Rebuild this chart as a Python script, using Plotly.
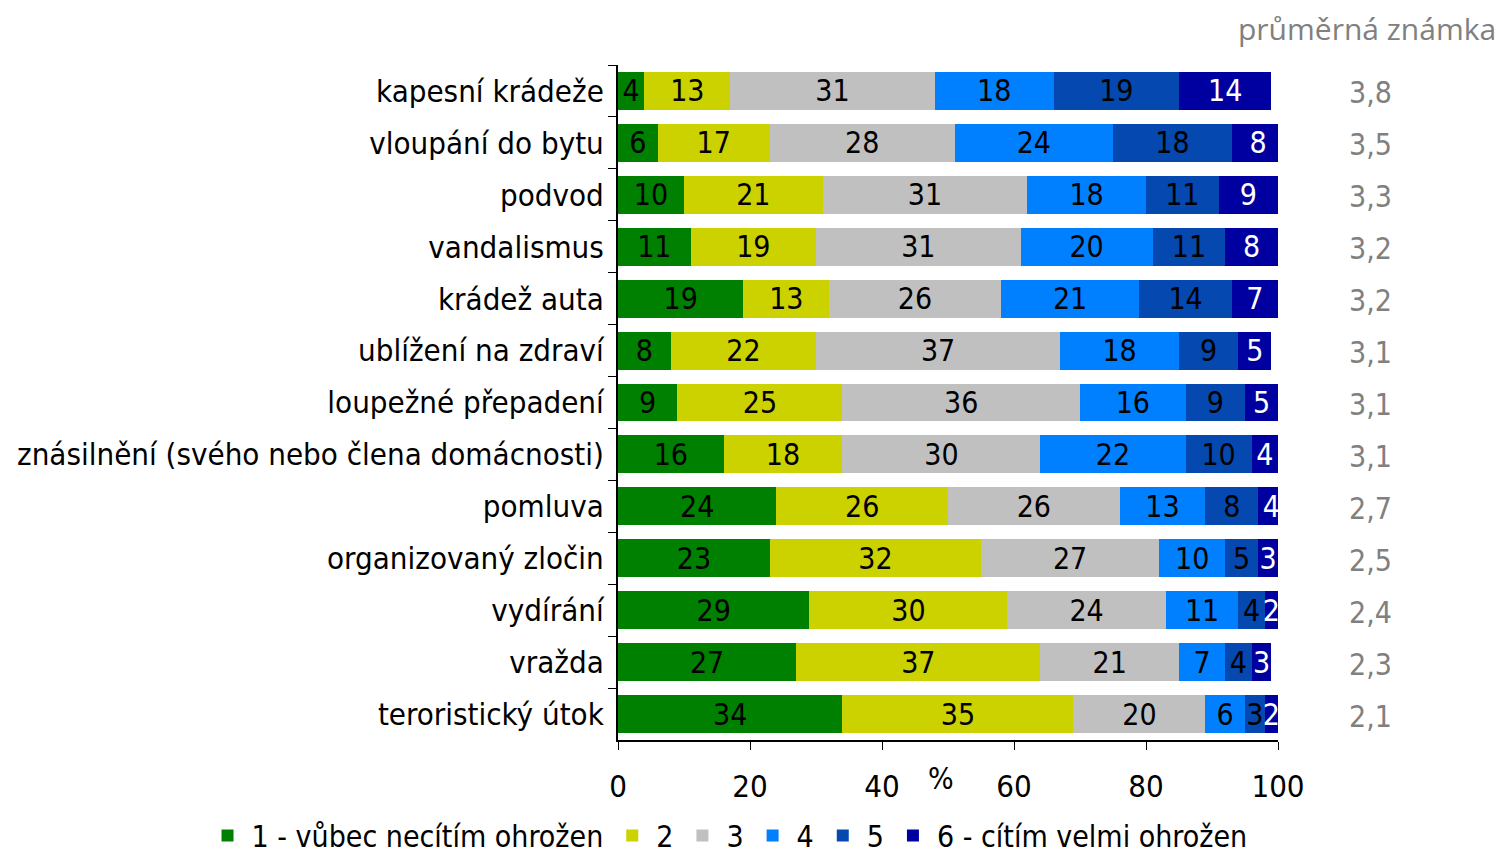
import plotly.graph_objects as go

categories = [
    "kapesní krádeže", "vloupání do bytu", "podvod", "vandalismus", "krádež auta",
    "ublížení na zdraví", "loupežné přepadení", "znásilnění (svého nebo člena domácnosti)",
    "pomluva", "organizovaný zločin", "vydírání", "vražda", "teroristický útok",
]
s1 = [4, 6, 10, 11, 19, 8, 9, 16, 24, 23, 29, 27, 34]
s2 = [13, 17, 21, 19, 13, 22, 25, 18, 26, 32, 30, 37, 35]
s3 = [31, 28, 31, 31, 26, 37, 36, 30, 26, 27, 24, 21, 20]
s4 = [18, 24, 18, 20, 21, 18, 16, 22, 13, 10, 11, 7, 6]
s5 = [19, 18, 11, 11, 14, 9, 9, 10, 8, 5, 4, 4, 3]
s6 = [14, 8, 9, 8, 7, 5, 5, 4, 4, 3, 2, 3, 2]
avg_grade = ["3,8", "3,5", "3,3", "3,2", "3,2", "3,1", "3,1", "3,1", "2,7", "2,5", "2,4", "2,3", "2,1"]

series_names = ["1 - vůbec necítím ohrožen", "2", "3", "4", "5", "6 - cítím velmi ohrožen"]
series_values = [s1, s2, s3, s4, s5, s6]
colors = ["#008000", "#CCD100", "#C0C0C0", "#0080FF", "#0448B0", "#0000A0"]
text_colors = ["black", "black", "black", "black", "black", "white"]

FONT = "DejaVu Sans Condensed"
FS = 30
AX_FS = 31

fig = go.Figure()
for name, vals, col, tcol in zip(series_names, series_values, colors, text_colors):
    fig.add_trace(go.Bar(
        y=categories, x=vals, name=name, orientation="h",
        marker=dict(color=col, line=dict(width=0)),
        text=[str(v) for v in vals], textposition="inside",
        insidetextanchor="middle", textangle=0,
        textfont=dict(color=tcol, size=FS, family=FONT),
        hoverinfo="skip",
    ))

# average grade column to the right of the bars
for cat, g in zip(categories, avg_grade):
    fig.add_annotation(x=1.14, xref="paper", y=cat, yref="y", text=g,
                       showarrow=False, xanchor="center", yshift=-2,
                       font=dict(size=FS, color="#808080", family=FONT))

fig.add_annotation(x=1.0, xref="paper", xanchor="right", xshift=220,
                   y=1.0, yref="paper", yshift=37, yanchor="middle",
                   text="průměrná známka", showarrow=False,
                   font=dict(size=30, color="#808080", family="Open Sans"))

fig.add_annotation(x=49, xref="x", y=0, yref="paper", yshift=-38,
                   text="%", showarrow=False, yanchor="middle",
                   font=dict(size=FS, color="black", family=FONT))

fig.update_layout(
    barmode="stack", bargap=0.27,
    width=1499, height=857,
    margin=dict(l=618, r=221, t=65, b=117, autoexpand=False),
    paper_bgcolor="white", plot_bgcolor="white",
    font=dict(family=FONT, size=FS, color="black"),
    uniformtext=dict(minsize=FS, mode="show"),
    legend=dict(orientation="h", x=-0.628, xref="paper", xanchor="left",
                y=-0.103, yref="paper", yanchor="top",
                font=dict(size=FS, family=FONT), itemwidth=38,
                traceorder="normal", bgcolor="rgba(0,0,0,0)"),
    showlegend=True,
)
fig.update_xaxes(range=[0, 100], tickvals=[0, 20, 40, 60, 80, 100],
                 showgrid=False, zeroline=False, showline=True, linecolor="black",
                 linewidth=2, ticks="outside", ticklen=8, tickcolor="black",
                 ticklabelstandoff=10, tickfont=dict(size=AX_FS), fixedrange=True)
fig.update_yaxes(autorange="reversed", showgrid=False, showline=True,
                 linecolor="black", linewidth=2, ticks="outside", ticklen=8,
                 tickcolor="black", tickson="boundaries", ticklabelstandoff=6,
                 tickfont=dict(size=AX_FS), fixedrange=True)

fig.write_html("out.html")
